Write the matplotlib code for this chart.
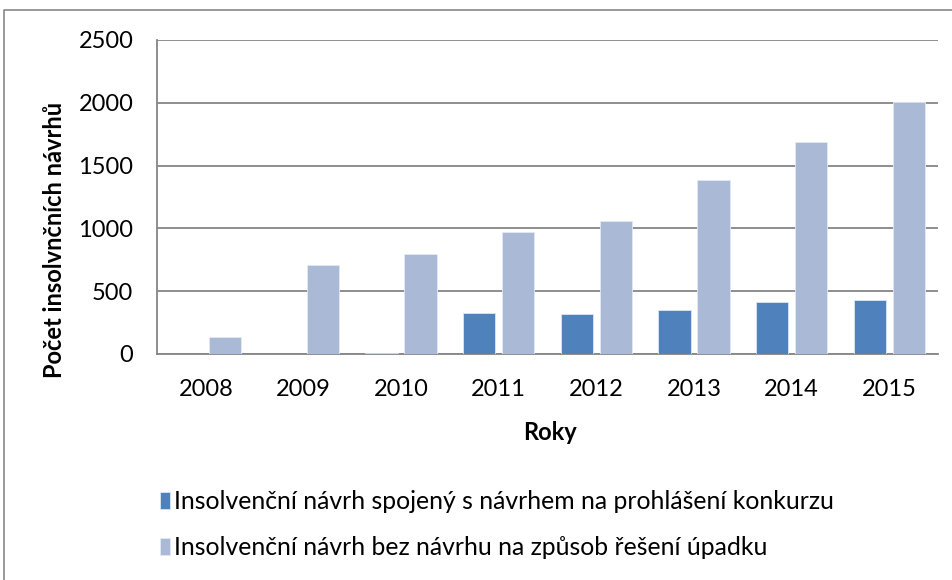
import numpy as np
import matplotlib.pyplot as plt
from matplotlib.lines import Line2D

years = ['2008', '2009', '2010', '2011', '2012', '2013', '2014', '2015']
s_konkurz = [0, 0, 8, 325, 318, 347, 416, 426]
s_bez = [138, 712, 800, 972, 1056, 1387, 1686, 2003]
labels = ['Insolvenční návrh spojený s návrhem na prohlášení konkurzu',
          'Insolvenční návrh bez návrhu na způsob řešení úpadku']

plt.rcParams['font.family'] = ['Lato', 'DejaVu Sans']

W, H = 953, 580
fig = plt.figure(figsize=(W / 100, H / 100), dpi=100)
ax = fig.add_axes([157 / W, 1 - 354 / H, (938 - 157) / W, (354 - 40) / H])

x = np.arange(len(years))
w = 0.33
ax.bar(x - 0.2, s_konkurz, w, color='#4F81BD', edgecolor='#dce6f2', linewidth=0.6,
       label=labels[0], zorder=3)
ax.bar(x + 0.2, s_bez, w, color='#AAB9D6', edgecolor='#e4eaf4', linewidth=0.6,
       label=labels[1], zorder=3)

ax.set_xlim(-0.5, len(years) - 0.5)
ax.set_ylim(0, 2500)
ax.set_yticks(range(0, 2501, 500))
ax.set_xticks(x)
ax.set_xticklabels(years)
ax.tick_params(axis='both', length=0, labelsize=17, colors='black')
ax.tick_params(axis='y', pad=17)
ax.tick_params(axis='x', pad=18)
ax.grid(axis='y', color='#868686', linewidth=1.3, zorder=0)
for s in ['top', 'right']:
    ax.spines[s].set_visible(False)
for s in ['left', 'bottom']:
    ax.spines[s].set_color('#868686')
    ax.spines[s].set_linewidth(1.3)

fig.text(550 / W, 1 - 432 / H, 'Roky', ha='center', va='center',
         fontsize=17, fontweight='bold')
fig.text(55 / W, 1 - 240 / H, 'Počet insolvnčních návrhů', ha='center', va='center',
         rotation=90, fontsize=17, fontweight='bold')

fig.legend(loc='upper left', bbox_to_anchor=(160 / W, 1 - 490 / H), frameon=False,
           fontsize=17.8, handlelength=0.4, handleheight=0.7, handletextpad=0.15,
           labelspacing=0.95, borderaxespad=0, borderpad=0)

# outer chart frame
fig.add_artist(Line2D([4 / W, 4 / W, 1], [0, 1 - 10 / H, 1 - 10 / H],
                      transform=fig.transFigure, color='#888888', linewidth=1.2))

fig.savefig('out.png', dpi=100)
